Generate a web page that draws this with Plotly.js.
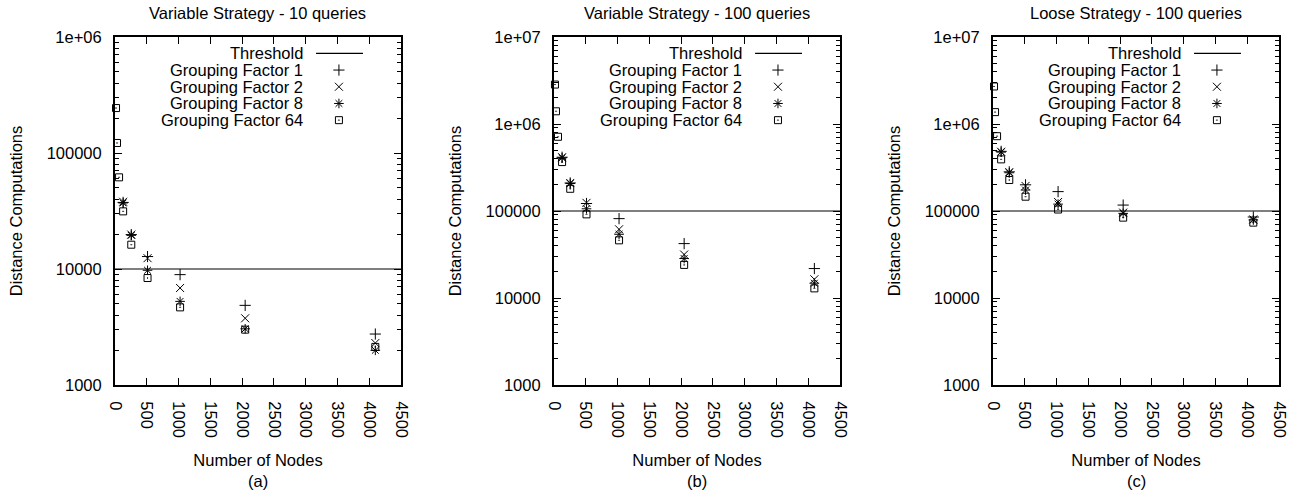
<!DOCTYPE html>
<html><head><meta charset="utf-8">
<script src="https://cdn.plot.ly/plotly-3.0.1.min.js"></script>
<style>html,body{margin:0;padding:0;background:#fff}#chart{width:1297px;height:491px}</style>
</head><body><div id="chart"></div>
<script>
// ---------- data ----------
const NODES_GF64 = [16, 32, 64, 128, 256, 512, 1024, 2048, 4096];
const NODES = [128, 256, 512, 1024, 2048, 4096];

const GF1_A = [37500, 19800, 12800, 8940, 4860, 2750];
const GF2_A = [38000, 19800, 12400, 6860, 3760, 2300];
const GF8_A = [37100, 19500, 9750, 5260, 3050, 1990];
const GF64_A = [244000, 122000, 61700, 31400, 16200, 8360, 4670, 3000, 2130];

const GF1_B = [415000, 210000, 122000, 81700, 42200, 21800];
const GF2_B = [415000, 210000, 124000, 61600, 31600, 16400];
const GF8_B = [409000, 207000, 106000, 54000, 28400, 14800];
const GF64_B = [2840000, 1400000, 713000, 365000, 180000, 91500, 46000, 24000, 12900];

const GF1_C = [485000, 282000, 200000, 167000, 117000, 85300];
const GF2_C = [480000, 280000, 194000, 127000, 95800, 80000];
const GF8_C = [475000, 275000, 174000, 120000, 93900, 78900];
const GF64_C = [2700000, 1370000, 724000, 392000, 227000, 146000, 104000, 83900, 73500];

const TITLES = ['Variable Strategy - 10 queries', 'Variable Strategy - 100 queries', 'Loose Strategy - 100 queries'];
const PANEL_LABELS = ['(a)', '(b)', '(c)'];
const THRESHOLDS = [10000, 100000, 100000];
const SERIES_NAMES = ['Grouping Factor 1', 'Grouping Factor 2', 'Grouping Factor 8', 'Grouping Factor 64'];
const THRESHOLD_NAME = 'Threshold';
const X_TITLE = 'Number of Nodes';
const Y_TITLE = 'Distance Computations';
const X_TICKVALS = [0, 500, 1000, 1500, 2000, 2500, 3000, 3500, 4000, 4500];
const Y_TICKVALS_A = [1000, 10000, 100000, 1000000];
const Y_TICKTEXT_A = ['1000', '10000', '100000', '1e+06'];
const Y_TICKVALS_BC = [1000, 10000, 100000, 1000000, 10000000];
const Y_TICKTEXT_BC = ['1000', '10000', '100000', '1e+06', '1e+07'];

// ---------- styling ----------
const FONT = {family: '"Liberation Sans", Arial, Helvetica, sans-serif', size: 16.5, color: '#000'};
const SYMBOLS = ['cross-thin-open', 'x-thin-open', 'asterisk-open', 'square-open-dot'];
const SIZES = [8, 8, 8, 7];
const X_RANGE = [0, 4500];
const Y_RANGES = [[3, 6], [3, 7], [3, 7]];
const DOMAINS = [[0, 0.2457], [0.3771, 0.6229], [0.7543, 1]];

const panels = [
  {series: [GF1_A, GF2_A, GF8_A, GF64_A], tv: Y_TICKVALS_A, tt: Y_TICKTEXT_A},
  {series: [GF1_B, GF2_B, GF8_B, GF64_B], tv: Y_TICKVALS_BC, tt: Y_TICKTEXT_BC},
  {series: [GF1_C, GF2_C, GF8_C, GF64_C], tv: Y_TICKVALS_BC, tt: Y_TICKTEXT_BC}
];

// legend geometry (fractions of plot area)
const LEG_TEXT_X = 0.664, LEG_SYM_X = 0.783, LEG_LINE_X0 = 0.703, LEG_LINE_X1 = 0.867;
const LEG_ROW0 = 0.953, LEG_STEP = 0.048;

function minorVals(r) {
  const out = [];
  for (let e = r[0]; e < r[1]; e++) for (let d = 2; d <= 9; d++) out.push(d * Math.pow(10, e));
  return out;
}

const traces = [];
const annotations = [];
const shapes = [];
const layout = {
  width: 1297, height: 491,
  margin: {l: 115, r: 18, t: 37, b: 106, pad: 0},
  paper_bgcolor: '#fff', plot_bgcolor: '#fff',
  showlegend: false,
  font: FONT
};

panels.forEach((p, i) => {
  const k = i === 0 ? '' : String(i + 1);
  const xa = 'x' + k, ya = 'y' + k;
  const yr = Y_RANGES[i];
  const fx = f => X_RANGE[0] + f * (X_RANGE[1] - X_RANGE[0]);
  const fy = f => Math.pow(10, yr[0] + f * (yr[1] - yr[0]));

  p.series.forEach((vals, s) => {
    const xs = s === 3 ? NODES_GF64 : NODES;
    const mk = {symbol: SYMBOLS[s], size: SIZES[s], color: '#000', line: {color: '#000', width: 1}};
    traces.push({
      type: 'scatter', mode: 'markers', x: xs, y: vals, xaxis: xa, yaxis: ya,
      name: SERIES_NAMES[s], cliponaxis: false, marker: mk
    });
    // legend sample symbol
    const rowF = LEG_ROW0 - (s + 1) * LEG_STEP;
    traces.push({
      type: 'scatter', mode: 'markers', x: [fx(LEG_SYM_X)], y: [fy(rowF)], xaxis: xa, yaxis: ya,
      hoverinfo: 'skip', marker: mk
    });
    annotations.push({
      xref: xa + ' domain', yref: ya + ' domain', x: LEG_TEXT_X, y: rowF,
      xanchor: 'right', yanchor: 'middle', showarrow: false, text: SERIES_NAMES[s], font: FONT
    });
  });
  // threshold legend
  traces.push({
    type: 'scatter', mode: 'lines', x: [fx(LEG_LINE_X0), fx(LEG_LINE_X1)], y: [fy(LEG_ROW0), fy(LEG_ROW0)],
    xaxis: xa, yaxis: ya, hoverinfo: 'skip', line: {color: '#000', width: 1.2}
  });
  annotations.push({
    xref: xa + ' domain', yref: ya + ' domain', x: LEG_TEXT_X, y: LEG_ROW0,
    xanchor: 'right', yanchor: 'middle', showarrow: false, text: THRESHOLD_NAME, font: FONT
  });
  // threshold line
  shapes.push({type: 'line', xref: xa + ' domain', yref: ya, x0: 0, x1: 1,
    y0: THRESHOLDS[i], y1: THRESHOLDS[i], line: {color: '#000', width: 1.2}, layer: 'below'});
  // title
  annotations.push({xref: xa + ' domain', yref: 'paper', x: 0.5, y: 1, yshift: 24,
    xanchor: 'center', yanchor: 'middle', showarrow: false, text: TITLES[i], font: FONT});
  // panel label
  annotations.push({xref: xa + ' domain', yref: 'paper', x: 0.5, y: 0, yshift: -96,
    xanchor: 'center', yanchor: 'middle', showarrow: false, text: PANEL_LABELS[i], font: FONT});

  layout['xaxis' + k] = {
    domain: DOMAINS[i], anchor: ya, range: X_RANGE, type: 'linear',
    tickmode: 'array', tickvals: X_TICKVALS, tickangle: 90,
    ticks: 'inside', ticklen: 7, tickwidth: 1, tickcolor: '#000',
    showline: true, linecolor: '#000', linewidth: 2, mirror: 'ticks',
    showgrid: false, zeroline: false, ticklabelstandoff: 11,
    tickfont: FONT,
    title: {text: X_TITLE, font: FONT, standoff: 17}
  };
  layout['yaxis' + k] = {
    domain: [0, 1], anchor: xa, type: 'log', range: yr,
    tickmode: 'array', tickvals: p.tv, ticktext: p.tt,
    ticks: 'inside', ticklen: 7, tickwidth: 1, tickcolor: '#000',
    minor: {tickmode: 'array', tickvals: minorVals(yr), ticks: 'inside', ticklen: 4, tickwidth: 1, tickcolor: '#000', showgrid: false},
    showline: true, linecolor: '#000', linewidth: 2, mirror: 'ticks',
    showgrid: false, zeroline: false, ticklabelstandoff: 8,
    tickfont: FONT,
    title: {text: Y_TITLE, font: FONT, standoff: 20}
  };
});

layout.annotations = annotations;
layout.shapes = shapes;

Plotly.newPlot('chart', traces, layout, {displayModeBar: false, staticPlot: true});
</script>
</body></html>
